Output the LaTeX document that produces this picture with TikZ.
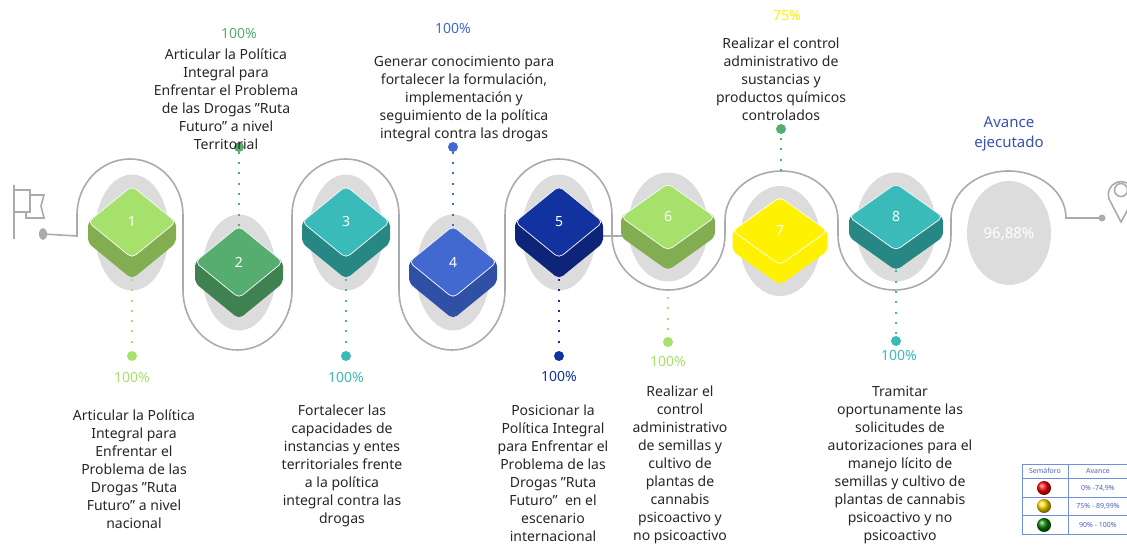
\documentclass[tikz,border=0pt]{standalone}
\usepackage{fontspec}
\setmainfont{Noto Sans}
\usepackage{xcolor}
\usepackage{tikz}
\usetikzlibrary{calc}
\usetikzlibrary{shadings}

\definecolor{limetop}{HTML}{A6E16C}
\definecolor{limeside}{HTML}{82AD50}
\definecolor{greentop}{HTML}{55AE70}
\definecolor{greenside}{HTML}{3F8150}
\definecolor{tealtop}{HTML}{3ABAB8}
\definecolor{tealside}{HTML}{268784}
\definecolor{bluetop}{HTML}{4169CF}
\definecolor{blueside}{HTML}{2F50A5}
\definecolor{navytop}{HTML}{1232A0}
\definecolor{navyside}{HTML}{0E2478}
\definecolor{halo}{HTML}{DCDCDC}
\definecolor{roadgray}{HTML}{ABABAB}
\definecolor{gridblue}{HTML}{7090DD}
\definecolor{gridtext}{HTML}{4A60C0}

% #1 number, #2 x, #3 y, #4 half width, #5 half height, #6 depth, #7 top, #8 side
\newcommand{\stepblock}[8]{
	\fill[halo] (#2,#3-#6/2) ellipse [x radius=#4-7, y radius=#5+#6+1];
	\fill[#8, rounded corners=5pt] (#2-#4,#3) -- (#2,#3+#5) -- (#2+#4,#3) -- (#2+#4,#3-#6) -- (#2,#3-#5-#6) -- (#2-#4,#3-#6) -- cycle;
	\draw[#7, draw=white, fill=#7, line width=0.7pt, rounded corners=5pt] (#2-#4,#3) -- (#2,#3+#5) -- (#2+#4,#3) -- (#2,#3-#5) -- cycle;
	\node[number] (b#1) at (#2,#3) {#1};
	\coordinate (b#1foot) at (#2,#3-#5-#6);
	\coordinate (b#1head) at (#2,#3+#5);
}

\begin{document}
\begin{tikzpicture}[
		x=1pt, y=1pt,
		road/.style={line width=1.6pt, color=roadgray},
		number/.style={font=\fontsize{14}{14}\selectfont\bfseries, text=white, inner sep=0pt},
		stepdot/.style={circle, fill=#1, inner sep=0pt, minimum size=10pt},
		dots/.style={line width=2pt, color=#1, dash pattern=on 2pt off 8.3pt},
		percent/.style={font=\fontsize{14}{14}\selectfont\bfseries, text=#1, inner sep=0pt},
		desc/.style={font=\fontsize{14}{18}\selectfont, text=black!85, align=center, inner sep=0pt},
		gridtxt/.style={font=\fontsize{7}{7}\selectfont, text=gridtext, inner sep=0pt},
		light/.style={circle, ball color=#1, inner sep=0pt, minimum size=14pt}
		]

	\path[clip, use as bounding box] (0,0) rectangle (1127,544);

	% road
	\draw[road] (43,310) -- (77,308) -- (77,329)
		arc[start angle=180, end angle=0, x radius=53, y radius=56] --++(0,-75)
		arc[start angle=180, end angle=360, x radius=54.5, y radius=60] --++(0,75)
		arc[start angle=180, end angle=0, x radius=53.5, y radius=56] --++(0,-75)
		arc[start angle=180, end angle=360, x radius=53, y radius=60] --++(0,75)
		arc[start angle=180, end angle=0, x radius=53.5, y radius=56] --++(0,-20)
		arc[start angle=180, end angle=360, x radius=56.5, y radius=55] --++(0,15)
		arc[start angle=180, end angle=0, x radius=56.5, y radius=49] --++(0,-15)
		arc[start angle=180, end angle=360, x radius=56.5, y radius=55] --++(0,17)
		arc[start angle=180, end angle=0, x radius=57.5, y radius=47] -- (1102,326);
	\draw[road] (600,308) -- (622,308);

	% flag
	\draw[road] (14,359) --++(0,-54) (14,354) --++(16,0) --++(0,-22) --++(-16,0) (30,349) --++(14,0) --++(-3,-11) --++(3,-12) --++(-18,0) --++(0,6);
	\fill[roadgray] (43,310) ellipse [x radius=4, y radius=6];

	% pin
	\draw[road] (1121,322) -- (1109,345) arc[start angle=200, end angle=-20, radius=13] -- cycle;
	\draw[road] (1121,354) circle (6.5);
	\fill[roadgray] (1102,326) circle (3.5);

	\stepblock{1}{132}{322}{44}{36}{21}{limetop}{limeside}
	\stepblock{2}{239}{282}{44}{36}{21}{greentop}{greenside}
	\stepblock{3}{346}{322}{44}{36}{21}{tealtop}{tealside}
	\stepblock{4}{453}{282}{44}{36}{21}{bluetop}{blueside}
	\stepblock{5}{559}{322}{44}{36}{21}{navytop}{navyside}
	\stepblock{6}{668}{327}{47}{33.5}{20}{limetop}{limeside}
	\stepblock{7}{780}{313}{47.5}{34}{20}{yellow}{yellow}
	\stepblock{8}{896}{327}{47}{33.5}{20}{tealtop}{tealside}

	\node[stepdot=limetop] (d1) at (132,188) {};
	\node[stepdot=greentop] (d2) at (239,397) {};
	\node[stepdot=tealtop] (d3) at (346,188) {};
	\node[stepdot=bluetop] (d4) at (453,397) {};
	\node[stepdot=navytop] (d5) at (559,188) {};
	\node[stepdot=limetop] (d6) at (668,202) {};
	\node[stepdot=greentop] (d7) at (781,415) {};
	\node[stepdot=tealtop] (d8) at (896,203) {};

	\coordinate (d6top) at (668,247);
	\coordinate (d7low) at (781,373);

	\draw[dots=limetop] (b1foot) -- (d1);
	\draw[dots=greentop] (b2head) -- (d2);
	\draw[dots=tealtop] (b3foot) -- (d3);
	\draw[dots=bluetop] (b4head) -- (d4);
	\draw[dots=navytop] (b5foot) -- (d5);
	\draw[dots=limetop] (d6top) -- (d6);
	\draw[dots=greentop] (d7low) -- (d7);
	\draw[dots=tealtop] (b8foot) -- (d8);

	\node[percent=limetop] (p1) at (132,167) {100\%};
	\node[percent=greentop] (p2) at (239,511) {100\%};
	\node[percent=tealtop] (p3) at (346,167) {100\%};
	\node[percent=bluetop] (p4) at (453,516) {100\%};
	\node[percent=navytop] (p5) at (559,168) {100\%};
	\node[percent=limetop] (p6) at (668,183) {100\%};
	\node[percent=yellow] (p7) at (787,528) {75\%};
	\node[percent=tealtop] (p8) at (899,189) {100\%};

	\node[desc] (t2) at (226,445) {Articular la Política\\Integral para\\Enfrentar el Problema\\de las Drogas "Ruta\\Futuro" a nivel\\Territorial};
	\node[desc] (t4) at (464,445) {Generar conocimiento para\\fortalecer la formulación,\\implementación y\\seguimiento de la política\\integral contra las drogas};
	\node[desc] (t7) at (781,465) {Realizar el control\\administrativo de\\sustancias y\\productos químicos\\controlados};
	\node[desc] (t1) at (134,75) {Articular la Política\\Integral para\\Enfrentar el\\Problema de las\\Drogas "Ruta\\Futuro" a nivel\\nacional};
	\node[desc] (t3) at (342,78) {Fortalecer las\\capacidades de\\instancias y entes\\territoriales frente\\a la política\\integral contra las\\drogas};
	\node[desc] (t5) at (553,71) {Posicionar la\\Política Integral\\para Enfrentar el\\Problema de las\\Drogas "Ruta\\Futuro"\ \ en el\\escenario\\internacional};
	\node[desc] (t6) at (680,79) {Realizar el\\control\\administrativo\\de semillas y\\cultivo de\\plantas de\\cannabis\\psicoactivo y\\no psicoactivo};
	\node[desc] (t8) at (900,79) {Tramitar\\oportunamente las\\solicitudes de\\autorizaciones para el\\manejo lícito de\\semillas y cultivo de\\plantas de cannabis\\psicoactivo y no\\psicoactivo};

	% total
	\fill[halo] (1009,311) ellipse [x radius=42, y radius=52];
	\node[font=\fontsize{15}{15}\selectfont\bfseries, text=white, inner sep=0pt] (total) at (1009,310) {96,88\%};
	\node[font=\fontsize{15}{20}\selectfont, text=navytop!85, align=center, inner sep=0pt] (head) at (1009,410) {Avance\\ejecutado};

	% table
	\draw[gridblue, line width=0.7pt] (1022,80) rectangle (1128,10) (1068,80) -- (1068,10) (1022,66) -- (1128,66) (1022,47) -- (1128,47) (1022,29) -- (1128,29);
	\node[gridtxt, font=\fontsize{7}{7}\selectfont\bfseries] (h1) at (1045,73) {Semáforo};
	\node[gridtxt, font=\fontsize{7}{7}\selectfont\bfseries] (h2) at (1098,73) {Avance};
	\node[light=red] (l1) at (1044,56) {};
	\node[light={yellow!70!orange}] (l2) at (1044,38) {};
	\node[light={green!50!black}] (l3) at (1044,19) {};
	\node[gridtxt] (a1) at (1098,56) {0\% -74,9\%};
	\node[gridtxt] (a2) at (1098,38) {75\% - 89,99\%};
	\node[gridtxt] (a3) at (1098,19) {90\% - 100\%};

\end{tikzpicture}
\end{document}
